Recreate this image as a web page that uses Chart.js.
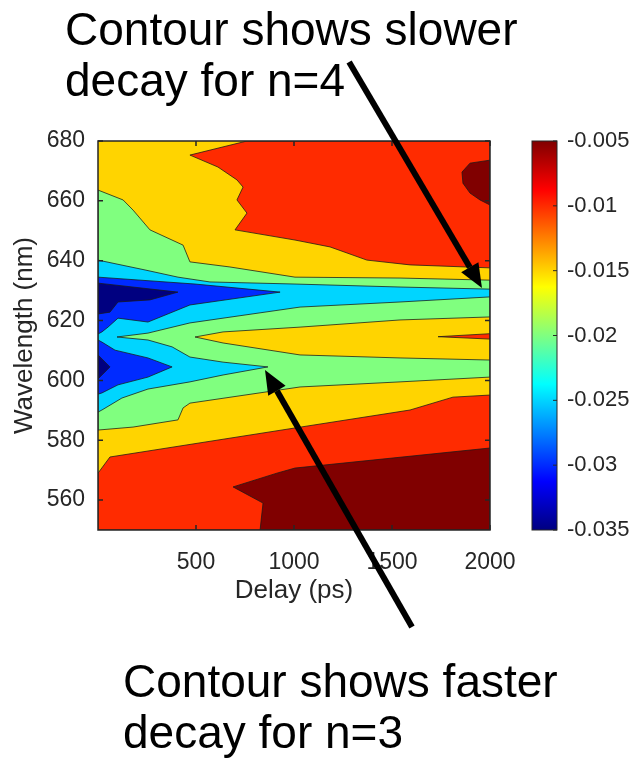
<!DOCTYPE html>
<html>
<head>
<meta charset="utf-8">
<script src="https://cdn.jsdelivr.net/npm/chart.js@4.4.1/dist/chart.umd.min.js"></script>
<style>
  html, body { margin: 0; padding: 0; background: #fff; }
  #wrap { position: relative; width: 633px; height: 759px; }
  #mainChart { position: absolute; left: 0; top: 0; }
  #barChart { position: absolute; left: 500px; top: 0; }
</style>
</head>
<body>
<div id="wrap">
  <canvas id="mainChart" width="633" height="759"></canvas>
  <canvas id="barChart" width="133" height="759"></canvas>
</div>
<script>
// axis ticks
const delayTicks = [500, 1000, 1500, 2000];
const wavelengthTicks = [560, 580, 600, 620, 640, 660, 680];
const levels = [-0.035, -0.03, -0.025, -0.02, -0.015, -0.01, -0.005];

// contour regions, [delay (ps), wavelength (nm)]
const plotBox = [[0, 550], [2000, 550], [2000, 680], [0, 680]];
const topRed = [[760, 680], [2000, 680], [2000, 637.6], [1592, 638.6], [1372, 640.2], [1184, 644.6],
  [1005, 646.9], [699, 650.3], [760, 655.9], [709, 660.3], [740, 664.6], [709, 667.0], [612, 671.3], [469, 675.3]];
const topDarkRed = [[2000, 673.6], [1898, 672.6], [1857, 669.6], [1862, 665.9], [1898, 662.6], [1949, 660.3], [2000, 658.6]];
const bottomRed = [[0, 569.0], [61, 574.4], [1005, 584.1], [1592, 590.1], [1811, 594.4], [2000, 595.1], [2000, 550], [0, 550]];
const bottomDarkRed = [[689, 564.4], [913, 569.0], [1005, 570.7], [2000, 577.4], [2000, 550], [827, 550], [842, 559.0]];
const greenBand = [[0, 663.6], [128, 660.3], [179, 656.9], [265, 650.3], [434, 645.2], [469, 639.6], [673, 637.9],
  [1005, 634.5], [1541, 634.2], [2000, 633.5], [2000, 601.1], [1541, 599.5], [1031, 597.8], [469, 592.4],
  [434, 590.8], [408, 586.8], [179, 584.4], [0, 583.4]];
const cyanBand = [[0, 640.2], [240, 636.9], [408, 634.5], [571, 632.9], [1005, 632.2], [1541, 631.2], [2000, 630.5],
  [2000, 627.9], [1541, 626.2], [1031, 624.5], [469, 619.2], [255, 615.8], [97, 614.5], [255, 613.5], [378, 611.2],
  [469, 607.8], [638, 606.1], [867, 604.5], [638, 601.8], [469, 599.5], [255, 597.1], [122, 594.1], [20, 590.1], [0, 589.4]];
const yellowTongue = [[495, 614.5], [638, 616.2], [1031, 617.8], [1541, 620.2], [2000, 621.2], [2000, 606.8],
  [1541, 607.5], [1031, 608.5], [638, 612.5]];
const redSliver = [[1735, 614.6], [2000, 615.6], [2000, 613.8]];
const blueUpper = [[0, 634.5], [495, 632.2], [929, 629.5], [469, 625.2], [255, 619.5], [102, 620.8], [51, 617.8],
  [20, 616.2], [0, 615.5]];
const darkBlueUpper = [[0, 632.5], [408, 629.5], [265, 626.9], [102, 626.2], [61, 622.8], [0, 622.2]];
const blueLower = [[0, 613.5], [20, 612.8], [87, 610.1], [255, 607.5], [378, 604.5], [255, 601.1], [102, 598.5],
  [20, 595.8], [0, 595.4]];
const darkBlueLower = [[0, 608.5], [61, 604.5], [0, 600.5]];

// painting order, each region filled with the colour of its contour level
const regions = [
  {pts: plotBox, level: -0.015, outline: false},
  {pts: topRed, level: -0.01},
  {pts: topDarkRed, level: -0.005},
  {pts: bottomRed, level: -0.01},
  {pts: bottomDarkRed, level: -0.005},
  {pts: greenBand, level: -0.02},
  {pts: cyanBand, level: -0.025},
  {pts: yellowTongue, level: -0.015},
  {pts: redSliver, level: -0.01},
  {pts: blueUpper, level: -0.03},
  {pts: darkBlueUpper, level: -0.035},
  {pts: blueLower, level: -0.03},
  {pts: darkBlueLower, level: -0.035}
];

// arrows, [delay, wavelength]
const arrowTails = [[1281, 706.4], [1602, 517.6]];
const arrowHeads = [[1959, 630.9], [852, 603.5]];

const axisColor = '#262626';
Chart.defaults.font.family = '"Liberation Sans", Arial, sans-serif';

function jet(t) {
  const c = v => Math.round(255 * Math.max(0, Math.min(1, v)));
  return 'rgb(' + c(Math.min(4 * t - 1.5, -4 * t + 4.5)) + ',' + c(Math.min(4 * t - 0.5, -4 * t + 3.5)) + ',' +
    c(Math.min(4 * t + 0.5, -4 * t + 2.5)) + ')';
}
const lo = levels[0], hi = levels[levels.length - 1];
const levelColor = lv => jet((lv - lo) / (hi - lo));

const contourPlugin = {
  id: 'contours',
  beforeDatasetsDraw(chart) {
    const ctx = chart.ctx, a = chart.chartArea;
    ctx.save();
    ctx.beginPath();
    ctx.rect(a.left, a.top, a.right - a.left, a.bottom - a.top);
    ctx.clip();
    chart.data.datasets.forEach((ds, i) => {
      const pts = chart.getDatasetMeta(i).data;
      if (!pts.length) return;
      ctx.beginPath();
      pts.forEach((p, j) => j ? ctx.lineTo(p.x, p.y) : ctx.moveTo(p.x, p.y));
      ctx.closePath();
      ctx.fillStyle = ds.backgroundColor;
      ctx.fill();
      if (ds.outline) {
        ctx.lineWidth = 0.9;
        ctx.strokeStyle = 'rgba(25,25,25,0.85)';
        ctx.stroke();
      }
    });
    ctx.restore();
  },
  afterDatasetsDraw(chart) {
    // axes box with inward ticks
    const ctx = chart.ctx, a = chart.chartArea;
    const xs = chart.scales.x, ys = chart.scales.y;
    ctx.save();
    ctx.strokeStyle = axisColor;
    ctx.lineWidth = 1.5;
    ctx.strokeRect(a.left, a.top, a.right - a.left, a.bottom - a.top);
    ctx.beginPath();
    delayTicks.forEach(v => {
      const x = xs.getPixelForValue(v);
      ctx.moveTo(x, a.bottom); ctx.lineTo(x, a.bottom - 5);
      ctx.moveTo(x, a.top); ctx.lineTo(x, a.top + 5);
    });
    wavelengthTicks.forEach(v => {
      const y = ys.getPixelForValue(v);
      ctx.moveTo(a.left, y); ctx.lineTo(a.left + 5, y);
      ctx.moveTo(a.right, y); ctx.lineTo(a.right - 5, y);
    });
    ctx.stroke();
    ctx.restore();
  },
  afterDraw(chart) {
    const ctx = chart.ctx;
    const xs = chart.scales.x, ys = chart.scales.y;
    ctx.save();
    ctx.strokeStyle = '#000';
    ctx.fillStyle = '#000';
    arrowTails.forEach((t, i) => {
      const x0 = xs.getPixelForValue(t[0]), y0 = ys.getPixelForValue(t[1]);
      const x1 = xs.getPixelForValue(arrowHeads[i][0]), y1 = ys.getPixelForValue(arrowHeads[i][1]);
      const ang = Math.atan2(y1 - y0, x1 - x0);
      const headLen = 24, headW = 10;
      const bx = x1 - headLen * Math.cos(ang), by = y1 - headLen * Math.sin(ang);
      ctx.lineWidth = 6;
      ctx.beginPath();
      ctx.moveTo(x0, y0);
      ctx.lineTo(bx, by);
      ctx.stroke();
      ctx.beginPath();
      ctx.moveTo(x1, y1);
      ctx.lineTo(bx + headW * Math.sin(ang), by - headW * Math.cos(ang));
      ctx.lineTo(bx - headW * Math.sin(ang), by + headW * Math.cos(ang));
      ctx.closePath();
      ctx.fill();
    });
    ctx.font = '46px "Liberation Sans", Arial, sans-serif';
    ctx.textBaseline = 'alphabetic';
    ctx.fillText('Contour shows slower', 65, 45);
    ctx.fillText('decay for n=4', 65, 96);
    ctx.fillText('Contour shows faster', 123, 697);
    ctx.fillText('decay for n=3', 123, 748);
    ctx.restore();
  }
};

new Chart(document.getElementById('mainChart'), {
  type: 'scatter',
  data: {
    datasets: regions.map(r => ({
      data: r.pts.map(p => ({x: p[0], y: p[1]})),
      backgroundColor: levelColor(r.level),
      outline: r.outline !== false,
      pointRadius: 0,
      showLine: false
    }))
  },
  options: {
    responsive: false,
    animation: false,
    events: [],
    layout: {padding: {left: 0, top: 141, right: 143, bottom: 149}},
    plugins: {legend: {display: false}, tooltip: {enabled: false}},
    scales: {
      x: {
        type: 'linear', min: 0, max: 2000,
        afterBuildTicks: s => { s.ticks = delayTicks.map(v => ({value: v})); },
        afterFit: s => { s.height = 80; },
        grid: {display: false, drawTicks: false, tickLength: 0}, border: {display: false},
        ticks: {color: axisColor, font: {size: 23}, padding: 19, callback: v => String(v)},
        title: {display: true, text: 'Delay (ps)', color: axisColor, font: {size: 26, lineHeight: 1}, padding: {top: 0, bottom: 6}}
      },
      y: {
        type: 'linear', min: 550, max: 680,
        afterBuildTicks: s => { s.ticks = wavelengthTicks.map(v => ({value: v})); },
        afterFit: s => { s.width = 98; },
        grid: {display: false, drawTicks: false, tickLength: 0}, border: {display: false},
        ticks: {color: axisColor, font: {size: 23}, padding: 13, callback: v => String(v)},
        title: {display: true, text: 'Wavelength (nm)', color: axisColor, font: {size: 26, lineHeight: 1}, padding: {top: 12, bottom: 0}}
      }
    }
  },
  plugins: [contourPlugin]
});

// colour bar
const colorBarPlugin = {
  id: 'colorBar',
  beforeDatasetsDraw(chart) {
    const ctx = chart.ctx, a = chart.chartArea;
    const g = ctx.createLinearGradient(0, a.bottom, 0, a.top);
    for (let k = 0; k <= 16; k++) g.addColorStop(k / 16, jet(k / 16));
    ctx.save();
    ctx.fillStyle = g;
    ctx.fillRect(a.left, a.top, a.right - a.left, a.bottom - a.top);
    ctx.strokeStyle = axisColor;
    ctx.lineWidth = 1;
    ctx.strokeRect(a.left, a.top, a.right - a.left, a.bottom - a.top);
    const ys = chart.scales.y;
    ctx.beginPath();
    levels.forEach(v => {
      const y = ys.getPixelForValue(v);
      ctx.moveTo(a.right, y); ctx.lineTo(a.right - 4, y);
    });
    ctx.stroke();
    ctx.restore();
  }
};

new Chart(document.getElementById('barChart'), {
  type: 'scatter',
  data: {datasets: []},
  options: {
    responsive: false,
    animation: false,
    events: [],
    layout: {padding: {left: 32, top: 141, right: 0, bottom: 229}},
    plugins: {legend: {display: false}, tooltip: {enabled: false}},
    scales: {
      x: {display: false, min: 0, max: 1},
      y: {
        position: 'right', min: lo, max: hi,
        afterBuildTicks: s => { s.ticks = levels.map(v => ({value: v})); },
        afterFit: s => { s.width = 76; },
        grid: {display: false, drawTicks: false, tickLength: 0}, border: {display: false},
        ticks: {color: axisColor, font: {size: 22}, padding: 10, callback: v => String(parseFloat(v.toFixed(3)))}
      }
    }
  },
  plugins: [colorBarPlugin]
});
</script>
</body>
</html>
